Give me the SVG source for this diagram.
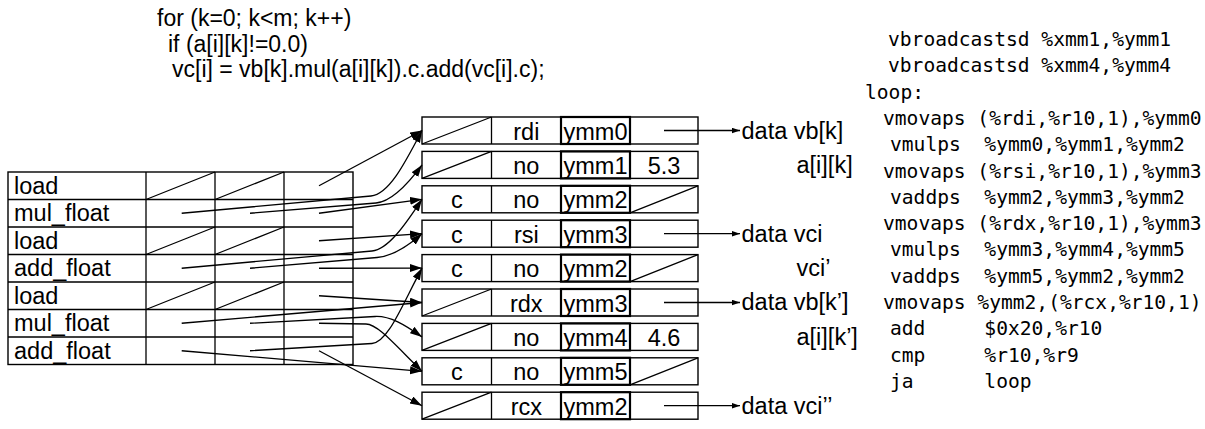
<svg xmlns="http://www.w3.org/2000/svg" width="1205" height="429" viewBox="0 0 1205 429">
<style>
.t{font-family:"Liberation Sans",Arial,Helvetica,sans-serif;font-size:23.5px;fill:#000}
.p{font-size:23px}
.c{text-anchor:middle}
.m{font-family:"DejaVu Sans Mono",monospace;font-size:19.6px;fill:#000;white-space:pre}
.b{fill:#fff;stroke:#000;stroke-width:1.4}
.l{fill:none;stroke:#000;stroke-width:1.3}
.y{fill:none;stroke:#000;stroke-width:2.2}
.a{fill:none;stroke:#000;stroke-width:1.3;marker-end:url(#ah)}
.s{fill:none;stroke:#000;stroke-width:1.3;marker-end:url(#sh)}
</style>
<defs>
<marker id="ah" markerUnits="userSpaceOnUse" markerWidth="13" markerHeight="9" refX="12" refY="4" orient="auto"><path d="M0,0 L12,4 L0,8 z" fill="#000"/></marker>
<marker id="sh" markerUnits="userSpaceOnUse" markerWidth="9" markerHeight="6" refX="8" refY="2.75" orient="auto"><path d="M0,0 L8,2.75 L0,5.5 z" fill="#000"/></marker>
</defs>
<rect width="1205" height="429" fill="#fff"/>

<g id="source">
<text class="t p" x="157" y="26">for (k=0; k&lt;m; k++)</text>
<text class="t p" x="168" y="51.5">if (a[i][k]!=0.0)</text>
<text class="t p" x="172" y="77">vc[i] = vb[k].mul(a[i][k]).c.add(vc[i].c);</text>
</g>

<g id="ops">
<rect class="b" x="8" y="172" width="345" height="192.5"/>
<path class="l" d="M8,199.5H353M8,227H353M8,254.5H353M8,282H353M8,309.5H353M8,337H353M146,172V364.5M215,172V364.5M284,172V364.5"/>
<path class="l" d="M146,199.5L215,172M215,199.5L284,172M146,254.5L215,227M215,254.5L284,227M146,309.5L215,282M215,309.5L284,282"/>
<text class="t" x="14" y="193.5">load</text>
<text class="t" x="14" y="221">mul_float</text>
<text class="t" x="14" y="248.5">load</text>
<text class="t" x="14" y="276">add_float</text>
<text class="t" x="14" y="303.5">load</text>
<text class="t" x="14" y="331">mul_float</text>
<text class="t" x="14" y="358.5">add_float</text>
</g>

<g id="r0">
<rect class="b" x="422" y="117" width="276" height="27"/>
<path class="l" d="M491.5,117V144M630,117V144M422,144L491.5,117"/>
<rect class="y" x="561" y="117" width="69" height="27"/>
<text class="t c" x="526.3" y="139.5">rdi</text><text class="t c" x="595.5" y="139.5">ymm0</text>
</g>
<g id="r1">
<rect class="b" x="422" y="151.4" width="276" height="27"/>
<path class="l" d="M491.5,151.4V178.4M630,151.4V178.4M422,178.4L491.5,151.4"/>
<rect class="y" x="561" y="151.4" width="69" height="27"/>
<text class="t c" x="526.3" y="173.9">no</text><text class="t c" x="595.5" y="173.9">ymm1</text><text class="t c" x="664" y="173.9">5.3</text>
</g>
<g id="r2">
<rect class="b" x="422" y="185.8" width="276" height="27"/>
<path class="l" d="M491.5,185.8V212.8M630,185.8V212.8M630,212.8L698,185.8"/>
<rect class="y" x="561" y="185.8" width="69" height="27"/>
<text class="t c" x="456.8" y="208.3">c</text><text class="t c" x="526.3" y="208.3">no</text><text class="t c" x="595.5" y="208.3">ymm2</text>
</g>
<g id="r3">
<rect class="b" x="422" y="220.2" width="276" height="27"/>
<path class="l" d="M491.5,220.2V247.2M630,220.2V247.2"/>
<rect class="y" x="561" y="220.2" width="69" height="27"/>
<text class="t c" x="456.8" y="242.7">c</text><text class="t c" x="526.3" y="242.7">rsi</text><text class="t c" x="595.5" y="242.7">ymm3</text>
</g>
<g id="r4">
<rect class="b" x="422" y="254.6" width="276" height="27"/>
<path class="l" d="M491.5,254.6V281.6M630,254.6V281.6M630,281.6L698,254.6"/>
<rect class="y" x="561" y="254.6" width="69" height="27"/>
<text class="t c" x="456.8" y="277.1">c</text><text class="t c" x="526.3" y="277.1">no</text><text class="t c" x="595.5" y="277.1">ymm2</text>
</g>
<g id="r5">
<rect class="b" x="422" y="289" width="276" height="27"/>
<path class="l" d="M491.5,289V316M630,289V316M422,316L491.5,289"/>
<rect class="y" x="561" y="289" width="69" height="27"/>
<text class="t c" x="526.3" y="311.5">rdx</text><text class="t c" x="595.5" y="311.5">ymm3</text>
</g>
<g id="r6">
<rect class="b" x="422" y="323.4" width="276" height="27"/>
<path class="l" d="M491.5,323.4V350.4M630,323.4V350.4M422,350.4L491.5,323.4"/>
<rect class="y" x="561" y="323.4" width="69" height="27"/>
<text class="t c" x="526.3" y="345.9">no</text><text class="t c" x="595.5" y="345.9">ymm4</text><text class="t c" x="664" y="345.9">4.6</text>
</g>
<g id="r7">
<rect class="b" x="422" y="357.8" width="276" height="27"/>
<path class="l" d="M491.5,357.8V384.8M630,357.8V384.8M630,384.8L698,357.8"/>
<rect class="y" x="561" y="357.8" width="69" height="27"/>
<text class="t c" x="456.8" y="380.3">c</text><text class="t c" x="526.3" y="380.3">no</text><text class="t c" x="595.5" y="380.3">ymm5</text>
</g>
<g id="r8">
<rect class="b" x="422" y="392.2" width="276" height="27"/>
<path class="l" d="M491.5,392.2V419.2M630,392.2V419.2M422,419.2L491.5,392.2"/>
<rect class="y" x="561" y="392.2" width="69" height="27"/>
<text class="t c" x="526.3" y="414.7">rcx</text><text class="t c" x="595.5" y="414.7">ymm2</text>
</g>

<g id="labels">
<text class="t" x="741.5" y="138.5">data vb[k]</text>
<text class="t" x="796.5" y="172.5">a[i][k]</text>
<text class="t" x="741.5" y="241.5">data vci</text>
<text class="t" x="796.5" y="275.5">vci’</text>
<text class="t" x="741.5" y="310">data vb[k’]</text>
<text class="t" x="796.5" y="344.5">a[i][k’]</text>
<text class="t" x="741.5" y="413.5">data vci’’</text>
</g>

<g id="asm">
<text class="m" xml:space="preserve" x="888" y="46">vbroadcastsd %xmm1,%ymm1</text>
<text class="m" xml:space="preserve" x="888" y="72.3">vbroadcastsd %xmm4,%ymm4</text>
<text class="m" xml:space="preserve" x="865" y="98.6">loop:</text>
<text class="m" xml:space="preserve" x="883" y="124.9">vmovaps (%rdi,%r10,1),%ymm0</text>
<text class="m" xml:space="preserve" x="890" y="151.2">vmulps  %ymm0,%ymm1,%ymm2</text>
<text class="m" xml:space="preserve" x="883" y="177.5">vmovaps (%rsi,%r10,1),%ymm3</text>
<text class="m" xml:space="preserve" x="890" y="203.8">vaddps  %ymm2,%ymm3,%ymm2</text>
<text class="m" xml:space="preserve" x="883" y="230.1">vmovaps (%rdx,%r10,1),%ymm3</text>
<text class="m" xml:space="preserve" x="890" y="256.4">vmulps  %ymm3,%ymm4,%ymm5</text>
<text class="m" xml:space="preserve" x="890" y="282.7">vaddps  %ymm5,%ymm2,%ymm2</text>
<text class="m" xml:space="preserve" x="883" y="309">vmovaps %ymm2,(%rcx,%r10,1)</text>
<text class="m" xml:space="preserve" x="890" y="335.3">add     $0x20,%r10</text>
<text class="m" xml:space="preserve" x="890" y="361.6">cmp     %r10,%r9</text>
<text class="m" xml:space="preserve" x="890" y="387.9">ja      loop</text>
</g>

<g id="connectors">
<path class="a" d="M319,185.75L422,130.5"/>
<path class="a" d="M181.7,213.25L371,196C389,194.4 405,163 422,130.5"/>
<path class="a" d="M250,213.25L376,203C392,201.7 408,184 422,164.9"/>
<path class="a" d="M319,213.25L422,199.3"/>
<path class="a" d="M319,240.75L422,233.7"/>
<path class="a" d="M181.7,268.25L372,251C388,249.5 405,225 422,199.3"/>
<path class="a" d="M250,268.25L377,257.5C392,256.2 408,246 422,233.7"/>
<path class="a" d="M319,268.25L422,268.1"/>
<path class="a" d="M319,295.75L422,302.5"/>
<path class="a" d="M181.7,323.25L422,302.5"/>
<path class="a" d="M250,323.25L375,316.5C390,315.7 405,325 422,336.9"/>
<path class="a" d="M319,323.25L366,324C378,324.2 395,345 422,371.3"/>
<path class="a" d="M181.7,350.75L422,371.3"/>
<path class="a" d="M250,350.75L372,343.5C388,342.5 402,305 422,268.1"/>
<path class="a" d="M319,350.75L422,405.7"/>
<path class="s" d="M664,130.5H740"/>
<path class="s" d="M664,233.7H740"/>
<path class="s" d="M664,302.5H740"/>
<path class="s" d="M664,405.7H740"/>
</g>
</svg>
